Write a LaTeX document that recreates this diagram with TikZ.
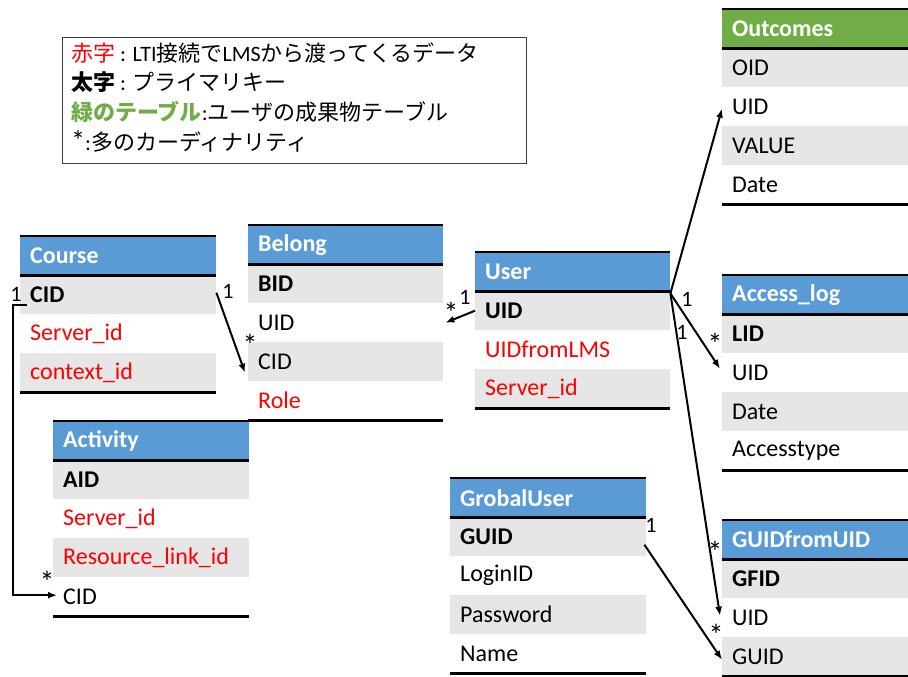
\documentclass[tikz,border=0pt]{standalone}
\usepackage{fontspec}
\setmainfont{Carlito}
\newfontfamily\jp{Noto Sans CJK JP}
\usetikzlibrary{arrows.meta,calc}
\definecolor{hblue}{HTML}{5B9BD5}
\definecolor{hgreen}{HTML}{70AD47}
\definecolor{rowgray}{HTML}{E7E6E6}
\definecolor{lred}{HTML}{FF0000}
\newcommand\rowfont{\fontsize{24}{28}\selectfont}
\tikzset{
  hdr/.style={rectangle, anchor=north west, minimum height=39, inner xsep=10, inner ysep=0,
    text width=#1, align=left, font=\rowfont\bfseries, text=white},
  cell/.style={rectangle, anchor=north west, minimum height=39, inner xsep=10, inner ysep=0,
    text width=#1, align=left, font=\rowfont},
  topline/.style={line width=1.2},
  rule/.style={line width=2.4},
  conn/.style={line width=2, -{Latex[length=9,width=7]}},
  card/.style={font=\fontsize{22}{24}\selectfont, inner sep=0},
  cstar/.style={font=\fontsize{30}{30}\selectfont, inner sep=0},
  legline/.style={anchor=base west, inner sep=0, font=\fontsize{22}{26}\selectfont},
}
\newcommand\ertable[7]{%
  \node[hdr=#4, fill=#5] (#1-h) at (#2,#3) {#6};
  \foreach \tx [count=\i] in {#7}{%
    \pgfmathsetmacro\ry{#3+39*\i}%
    \ifodd\i\def\fl{rowgray}\else\def\fl{white}\fi
    \node[cell=#4, fill=\fl] (#1-\i) at (#2,\ry) {\tx};
    \xdef\lastrow{\i}%
  }
  \draw[topline] (#1-h.north west) -- (#1-h.north east);
  \draw[rule] (#1-h.south west) -- (#1-h.south east);
  \draw[rule] (#1-\lastrow.south west) -- (#1-\lastrow.south east);
}
\begin{document}
\begin{tikzpicture}[x=1pt,y=-1pt]
\useasboundingbox (0,0) rectangle (908,677);

% legend
\node[draw=black!75, line width=1, minimum width=464, minimum height=126, anchor=north west, inner sep=0] (legend) at (62,37) {};
\node[legline] (leg1) at (71,62) {{\jp\color{lred}赤字} : LTI{\jp 接続で}LMS{\jp から渡ってくるデータ}};
\node[legline] (leg2) at (71,91) {{\jp\bfseries 太字} : {\jp プライマリキー}};
\node[legline] (leg3) at (71,121) {{\jp\bfseries\color{hgreen}緑のテーブル}:{\jp ユーザの成果物テーブル}};
\node[legline] (leg4) at (71,150) {{\fontsize{28}{26}\selectfont*}:{\jp 多のカーディナリティ}};

% tables
\ertable{out}{722}{9}{166pt}{hgreen}{Outcomes}{OID,UID,VALUE,Date}
\ertable{course}{20}{236}{176pt}{hblue}{Course}{{\bfseries CID},{\color{lred}Server\_id},{\color{lred}context\_id}}
\ertable{belong}{248}{225}{175pt}{hblue}{Belong}{{\bfseries BID},UID,CID,{\color{lred}Role}}
\ertable{user}{475}{252}{175pt}{hblue}{User}{{\bfseries UID},{\color{lred}UIDfromLMS},{\color{lred}Server\_id}}
\ertable{access}{722}{275}{166pt}{hblue}{Access\_log}{{\bfseries LID},UID,Date,Accesstype}
\ertable{activity}{53}{421}{176pt}{hblue}{Activity}{{\bfseries AID},{\color{lred}Server\_id},{\color{lred}Resource\_link\_id},CID}
\ertable{grobal}{450}{478}{176pt}{hblue}{GrobalUser}{{\bfseries GUID},LoginID,Password,Name}
\ertable{gfu}{722}{520}{166pt}{hblue}{GUIDfromUID}{{\bfseries GFID},UID,GUID}

% connectors
\draw[conn] ($(course-1.east)+(0,-2)$) -- ($(belong-3.west)+(-3,11)$);
\draw[conn] (user-1.west) -- ($(belong-2.east)+(2,0)$);
\coordinate (hub) at ($(user-h.south east)+(0,2)$);
\draw[conn] (hub) -- ($(out-2.west)+(0,2)$);
\draw[conn] (hub) -- ($(access-2.west)+(-2,-4)$);
\draw[conn] (hub) -- ($(gfu-2.west)+(-2,-2)$);
\draw[conn] ($(grobal-1.east)+(-2,8)$) -- ($(gfu-3.west)+(0,3)$);
\draw[conn] ($(course-1.west)+(7,10.5)$) -- ++(-14,0) |- ($(activity-4.west)+(4,-1.5)$);

% cardinalities
\node[card] (k1) at (228,291) {1};
\node[cstar] (k2) at (250,345) {*};
\node[card] (k3) at (465,297) {1};
\node[cstar] (k4) at (451,313) {*};
\node[card] (k5) at (687,299) {1};
\node[card] (k6) at (682,332) {1};
\node[cstar] (k7) at (715,344) {*};
\node[cstar] (k8) at (715,552) {*};
\node[cstar] (k9) at (716,635) {*};
\node[card] (k10) at (651,525) {1};
\node[card] (k11) at (16,294) {1};
\node[cstar] (k12) at (47,582) {*};
\end{tikzpicture}
\end{document}
